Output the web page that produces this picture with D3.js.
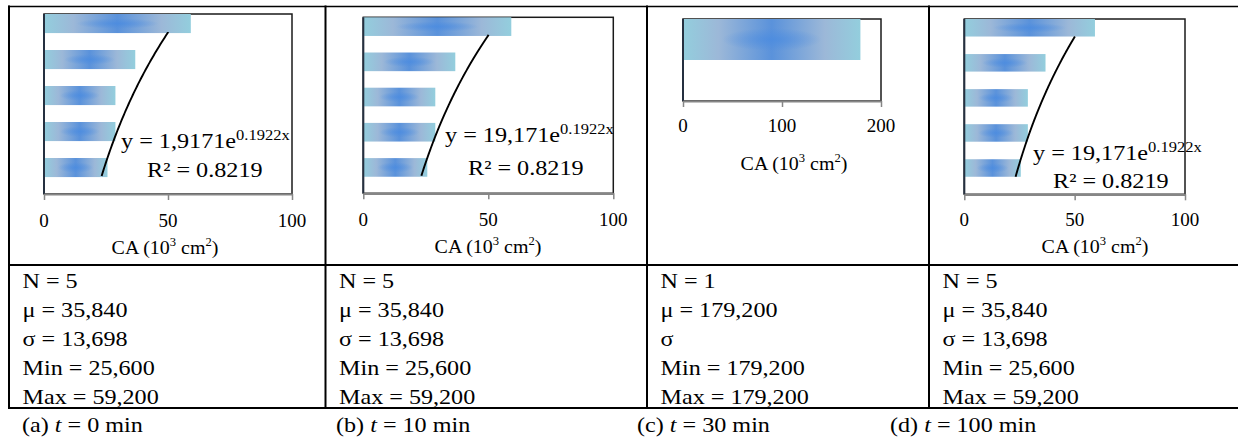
<!DOCTYPE html>
<html>
<head>
<meta charset="utf-8">
<script src="https://cdn.jsdelivr.net/npm/d3@7"></script>
<style>
  html, body { margin: 0; padding: 0; background: #fff; }
  svg { display: block; }
</style>
</head>
<body>
<svg id="fig" width="1238" height="438"></svg>
<script>
// ---- data ----------------------------------------------------------------
// contact area per sample (10^3 cm^2); sample 1 is drawn at the bottom
const samples5 = [1, 2, 3, 4, 5];
const caT0   = [25.6, 28.8, 28.8, 36.8, 59.2];
const caT10  = [25.6, 28.8, 28.8, 36.8, 59.2];
const samples2 = [1, 2];
const caT30  = [0.8, 179.2];
const caT100 = [25.6, 28.8, 28.8, 36.8, 59.2];

// exponential fit  y = a * e^(b x)
const fitCoef  = [19.171, 19.171, null, 19.171];
const fitCoefLabel = ["1,9171", "19,171", null, "19,171"];
const fitRate  = 0.1922;
const fitRateLabel = "0.1922x";
const fitR2    = "0.8219";

// axis ticks
const ticks100 = [0, 50, 100];
const ticks200 = [0, 100, 200];

// summary statistics
const statN    = ["5", "5", "1", "5"];
const statMean = ["35,840", "35,840", "179,200", "35,840"];
const statSd   = ["13,698", "13,698", null, "13,698"];
const statMin  = ["25,600", "25,600", "179,200", "25,600"];
const statMax  = ["59,200", "59,200", "179,200", "59,200"];

// captions
const captionLetters = ["(a)", "(b)", "(c)", "(d)"];
const captionTimes   = ["0", "10", "30", "100"];

// ---- layout --------------------------------------------------------------
const FONT = '"Liberation Serif","Times New Roman",Times,serif';
const SX = 1.15;   // horizontal stretch of the lettering

const panels = [
  { cats: samples5, vals: caT0,   max: 100, ticks: ticks100, x0: 44,    x1: 292,   y0: 14,   y1: 194,
    frac: 0.53, tickY: 227, titleX: 165,  titleY: 254, eq: [121, 148], r2: [147, 177] },
  { cats: samples5, vals: caT10,  max: 100, ticks: ticks100, x0: 363.3, x1: 613.3, y0: 17.3, y1: 193.3,
    frac: 0.53, tickY: 226, titleX: 488,  titleY: 253, eq: [445, 142], r2: [468, 175] },
  { cats: samples2, vals: caT30,  max: 200, ticks: ticks200, x0: 683,   x1: 881,   y0: 19,   y1: 101,
    frac: 1.0,  tickY: 132, titleX: 794,  titleY: 170, eq: null, r2: null },
  { cats: samples5, vals: caT100, max: 100, ticks: ticks100, x0: 964.3, x1: 1185,  y0: 19,   y1: 194.3,
    frac: 0.5,  tickY: 226, titleX: 1095, titleY: 253, eq: [1033, 160], r2: [1053, 188] }
];

const cellLeft = [9, 325.5, 647, 929];
const tableTop = 6.5, rowLine = 265, tableBottom = 408, tableRight = 1238;
const statRows = [288, 317, 346, 375, 403.5];
const captionY = 432;
const captionX = [22, 336, 637, 890];

const svg = d3.select("#fig");
const defs = svg.append("defs");

// bar fill: teal edges fading to a blue centre
const lg = defs.append("linearGradient").attr("id", "barFill")
  .attr("x1", 0).attr("y1", 0).attr("x2", 1).attr("y2", 0);
[[0, "#93cedd"], [0.2, "#9cb8d8"], [0.5, "#5a92db"], [0.8, "#9cb8d8"], [1, "#93cedd"]]
  .forEach(([o, c]) => lg.append("stop").attr("offset", o).attr("stop-color", c));
const rg = defs.append("radialGradient").attr("id", "barGlow")
  .attr("cx", 0.5).attr("cy", 0.5).attr("r", 0.28);
rg.append("stop").attr("offset", 0).attr("stop-color", "#4a8be0").attr("stop-opacity", 0.75);
rg.append("stop").attr("offset", 1).attr("stop-color", "#4a8be0").attr("stop-opacity", 0);

// text helper with horizontal stretch
function stext(g, x, y, size, anchor, sx) {
  return g.append("text")
    .attr("transform", `translate(${x},${y}) scale(${sx || SX},1)`)
    .attr("font-family", FONT)
    .attr("font-size", size)
    .attr("text-anchor", anchor || "start")
    .attr("fill", "#000");
}

// ---- charts --------------------------------------------------------------
panels.forEach((p, i) => {
  const g = svg.append("g");
  const x = d3.scaleLinear().domain([0, p.max]).range([p.x0, p.x1]);
  const y = d3.scaleBand().domain(p.cats.slice().reverse()).range([p.y0, p.y1]).padding(0);

  // plot area frame
  g.append("rect")
    .attr("x", p.x0).attr("y", p.y0)
    .attr("width", p.x1 - p.x0).attr("height", p.y1 - p.y0)
    .attr("fill", "none").attr("stroke", "#1a1a1a").attr("stroke-width", 1.5);

  // bars
  const rows = p.cats.map((c, k) => ({ c, v: p.vals[k] }));
  const bars = g.append("g").selectAll("g").data(rows).join("g");
  bars.append("rect")
    .attr("x", x(0)).attr("y", d => y(d.c))
    .attr("width", d => x(d.v) - x(0)).attr("height", y.bandwidth() * p.frac)
    .attr("fill", "url(#barFill)");
  bars.append("rect")
    .attr("x", x(0)).attr("y", d => y(d.c))
    .attr("width", d => x(d.v) - x(0)).attr("height", y.bandwidth() * p.frac)
    .attr("fill", "url(#barGlow)");

  // category axis
  g.append("line").attr("x1", p.x0).attr("x2", p.x0).attr("y1", p.y0).attr("y2", p.y1)
    .attr("stroke", "#253040").attr("stroke-width", 2);

  // value axis
  const ax = g.append("g").attr("transform", `translate(0,${p.y1})`)
    .call(d3.axisBottom(x).tickValues(p.ticks).tickSize(6).tickSizeOuter(0).tickFormat(""));
  ax.select(".domain").attr("stroke", "#868686").attr("stroke-width", 2.2);
  ax.selectAll(".tick line").attr("stroke", "#868686").attr("stroke-width", 1.5);

  p.ticks.forEach(t => stext(g, x(t), p.tickY, 19, "middle", 1.0).text(t));

  const title = stext(g, p.titleX, p.titleY, 19, "middle", 1.05);
  title.append("tspan").text("CA (10");
  title.append("tspan").attr("font-size", 12).attr("dy", -8).text("3");
  title.append("tspan").attr("dy", 8).text(" cm");
  title.append("tspan").attr("font-size", 12).attr("dy", -8).text("2");
  title.append("tspan").attr("dy", 8).text(")");

  // exponential trend line through the category centres
  if (fitCoef[i] !== null) {
    const n = p.cats.length;
    const step = y.step();
    const ty = d3.scaleLinear().domain([1, n]).range([p.y1 - step / 2, p.y0 + step / 2]);
    const pts = d3.range(1, n + 0.001, 0.05).map(k => [k, fitCoef[i] * Math.exp(fitRate * k)]);
    g.append("path")
      .datum(pts)
      .attr("d", d3.line().x(d => x(d[1])).y(d => ty(d[0])).curve(d3.curveMonotoneY))
      .attr("fill", "none").attr("stroke", "#000").attr("stroke-width", 1.9);

    const eq = stext(g, p.eq[0], p.eq[1], 22, "start", 1.1);
    eq.append("tspan").text(`y = ${fitCoefLabel[i]}e`);
    eq.append("tspan").attr("font-size", 15).attr("dy", -8).text(fitRateLabel);
    stext(g, p.r2[0], p.r2[1], 22, "start", 1.1).text(`R² = ${fitR2}`);
  }
});

// ---- table ---------------------------------------------------------------
const tbl = svg.append("g").attr("stroke", "#000").attr("fill", "none");
tbl.append("line").attr("x1", 8).attr("x2", tableRight).attr("y1", tableTop).attr("y2", tableTop).attr("stroke-width", 1.6);
tbl.append("line").attr("x1", 8).attr("x2", tableRight).attr("y1", rowLine).attr("y2", rowLine).attr("stroke-width", 2);
tbl.append("line").attr("x1", 8).attr("x2", tableRight).attr("y1", tableBottom).attr("y2", tableBottom).attr("stroke-width", 2);
cellLeft.forEach(cx => tbl.append("line").attr("x1", cx).attr("x2", cx)
  .attr("y1", tableTop - 1).attr("y2", tableBottom + 1).attr("stroke-width", 2));

cellLeft.forEach((cx, i) => {
  const g = svg.append("g");
  const tx = cx + 13.5;
  stext(g, tx, statRows[0], 21).text(`N = ${statN[i]}`);
  stext(g, tx, statRows[1], 21).text(`μ = ${statMean[i]}`);
  stext(g, tx, statRows[2], 21).text(statSd[i] === null ? "σ" : `σ = ${statSd[i]}`);
  stext(g, tx, statRows[3], 21).text(`Min = ${statMin[i]}`);
  stext(g, tx, statRows[4], 21).text(`Max = ${statMax[i]}`);
});

// captions under the table
captionX.forEach((cx, i) => {
  const t = stext(svg, cx, captionY, 21);
  t.append("tspan").text(`${captionLetters[i]} `);
  t.append("tspan").attr("font-style", "italic").text("t");
  t.append("tspan").text(` = ${captionTimes[i]} min`);
});
</script>
</body>
</html>
